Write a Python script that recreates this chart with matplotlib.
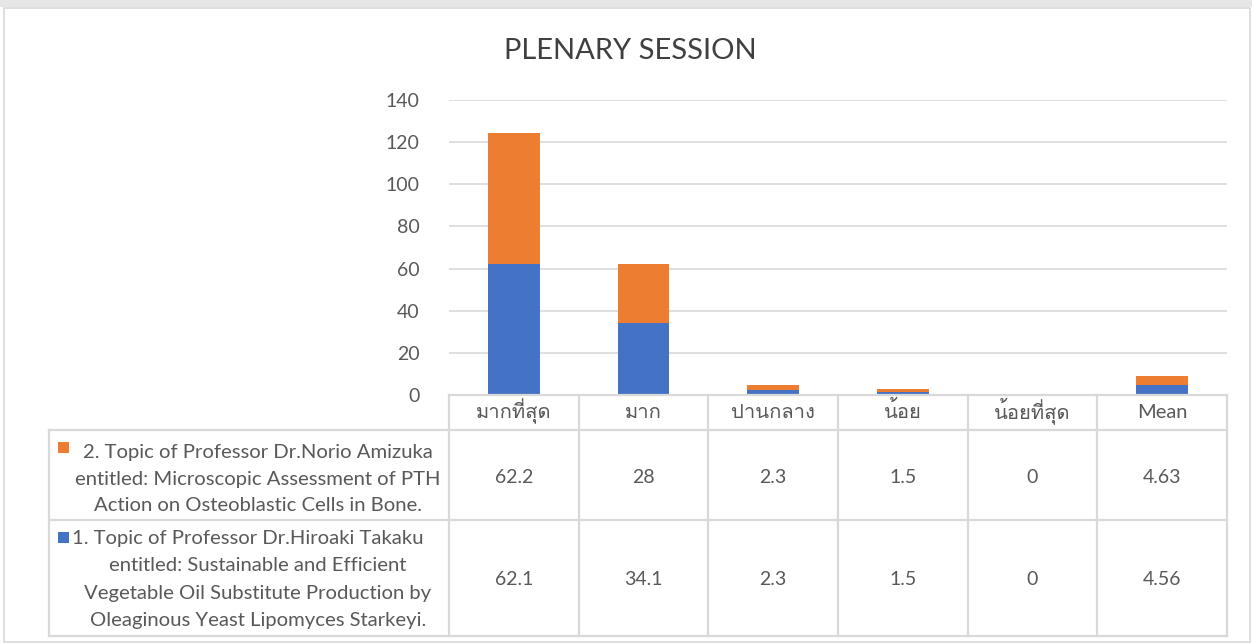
import matplotlib
matplotlib.use("Agg")
import matplotlib.pyplot as plt
from matplotlib import font_manager
from matplotlib.ft2font import FT2Font
from matplotlib.patches import Rectangle
from matplotlib.lines import Line2D

# ---------------- data ----------------
categories = ["มากที่สุด", "มาก", "ปานกลาง", "น้อย", "น้อยที่สุด", "Mean"]
series1_values = [62.1, 34.1, 2.3, 1.5, 0, 4.56]
series2_values = [62.2, 28, 2.3, 1.5, 0, 4.63]
series1_label = ["1. Topic of Professor Dr.Hiroaki Takaku",
                 "entitled: Sustainable and Efficient",
                 "Vegetable Oil Substitute Production by",
                 "Oleaginous Yeast Lipomyces Starkeyi."]
series2_label = ["2. Topic of Professor Dr.Norio Amizuka",
                 "entitled: Microscopic Assessment of PTH",
                 "Action on Osteoblastic Cells in Bone."]
series1_table = ["62.1", "34.1", "2.3", "1.5", "0", "4.56"]
series2_table = ["62.2", "28", "2.3", "1.5", "0", "4.63"]
yticks = [0, 20, 40, 60, 80, 100, 120, 140]
title = "PLENARY SESSION"

BLUE = "#4472C4"
ORANGE = "#ED7D31"
GRID = "#D9D9D9"
TXT = "#595959"

# ---------------- fonts ----------------
thai_family = None
for fe in font_manager.fontManager.ttflist:
    try:
        cm = FT2Font(fe.fname).get_charmap()
        if ord("ม") in cm and ord("ุ") in cm and ord("้") in cm:
            thai_family = fe.name
            break
    except Exception:
        pass
FAM = ["Lato"] + ([thai_family] if thai_family else []) + ["DejaVu Sans"]
plt.rcParams["font.family"] = FAM

W, H = 1252, 643
fig = plt.figure(figsize=(W / 100, H / 100), dpi=100)
fig.patch.set_facecolor("white")

def fx(x):
    return x / W

def fy(y):
    return 1 - y / H

# outer chart border
fig.add_artist(Rectangle((fx(4), fy(642)), fx(1250 - 4), fy(8) - fy(642),
                         transform=fig.transFigure, fill=False,
                         edgecolor="#D9D9D9", lw=1.2))
fig.add_artist(Rectangle((0, fy(7)), 1, 1 - fy(7), transform=fig.transFigure,
                         facecolor="#E6E6E6", edgecolor="none"))

# ---------------- bar axes ----------------
L, R, T, B = 449, 1227, 100, 395
ax = fig.add_axes([fx(L), fy(B), fx(R - L), fy(T) - fy(B)])
x = list(range(len(categories)))
ax.bar(x, series1_values, width=0.4, color=BLUE, zorder=3)
ax.bar(x, series2_values, width=0.4, bottom=series1_values, color=ORANGE, zorder=3)
ax.set_xlim(-0.5, len(categories) - 0.5)
ax.set_ylim(0, 140)
ax.set_yticks(yticks)
ax.set_yticklabels([str(v) for v in yticks], fontsize=14, color=TXT)
ax.tick_params(axis="y", length=0, pad=21)
ax.set_xticks([])
ax.grid(axis="y", color=GRID, lw=1.2, zorder=0)
for s in ax.spines.values():
    s.set_visible(False)

fig.text(fx(630), fy(51), title, ha="center", va="center", fontsize=21,
         color="#404040")

# ---------------- data table ----------------
col_edges = [L + i * (R - L) / len(categories) for i in range(len(categories) + 1)]
y_head_top, y_head_bot, y_mid, y_bot = 395, 430, 520, 636
x_left = 49

def hline(y, x0, x1):
    fig.add_artist(Line2D([fx(x0), fx(x1)], [fy(y), fy(y)], transform=fig.transFigure,
                          color=GRID, lw=1.6))

def vline(x, y0, y1):
    fig.add_artist(Line2D([fx(x), fx(x)], [fy(y0), fy(y1)], transform=fig.transFigure,
                          color=GRID, lw=1.6))

hline(y_head_top, L, R)
for yy in (y_head_bot, y_mid, y_bot):
    hline(yy, x_left, R)
for xe in col_edges:
    vline(xe, y_head_top, y_bot)
vline(x_left, y_head_bot, y_bot)

for i, cat in enumerate(categories):
    cx = (col_edges[i] + col_edges[i + 1]) / 2
    fig.text(fx(cx), fy(418), cat, ha="center", va="baseline", fontsize=14.5, color=TXT)
    fig.text(fx(cx), fy(483), series2_table[i], ha="center", va="baseline", fontsize=14, color=TXT)
    fig.text(fx(cx), fy(585), series1_table[i], ha="center", va="baseline", fontsize=14, color=TXT)

def legend_block(lines, baselines, color, mark_y, first_left=None):
    fig.add_artist(Rectangle((fx(58), fy(mark_y + 6)), fx(11), fy(mark_y - 5) - fy(mark_y + 6),
                             transform=fig.transFigure, facecolor=color, edgecolor="none"))
    for j, (ln, yy) in enumerate(zip(lines, baselines)):
        if j == 0 and first_left is not None:
            fig.text(fx(first_left), fy(yy), ln, ha="left", va="baseline", fontsize=14.6, color=TXT)
        else:
            fig.text(fx(258), fy(yy), ln, ha="center", va="baseline", fontsize=14.6, color=TXT)

legend_block(series2_label, [458, 485, 511], ORANGE, 447)
legend_block(series1_label, [544, 571, 599, 626], BLUE, 537, first_left=72)

fig.savefig("out.png", dpi=100, facecolor="white")
